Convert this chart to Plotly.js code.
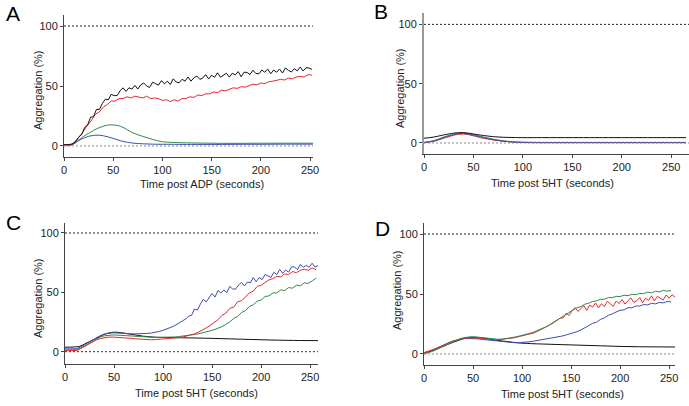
<!DOCTYPE html>
<html>
<head>
<meta charset="utf-8">
<script src="https://cdn.plot.ly/plotly-3.0.1.min.js"></script>
<style>
  html, body { margin: 0; padding: 0; background: #fff; }
  #chart { width: 689px; height: 406px; }
</style>
</head>
<body>
<div id="chart"></div>
<script>
// colours of the four traces
var black = '#111111', red = '#e8282c', green = '#2e8a4a', blue = '#3b4db0';

// ---------- panel A : ADP ----------
var tAk = [0,3,6,9,12,15,18,21,24,27,30,33,36,39,42,45,48,51,54,57,60,63,66,69,72,75,78,81,84,87,90,93,96,99,102,105,108,111,114,117,
           120,123,126,129,132,135,138,141,144,147,150,153,156,159,162,165,168,171,174,177,180,183,186,189,192,195,198,201,204,207,
           210,213,216,219,222,225,228,231,234,237,240,243,246,249,252];
var blackA = [1,1,1,2,4,7.5,9.5,15.5,17.5,24,24.5,30.5,30.5,35.5,39,38.5,43,42,42,46,48.5,45.5,48.5,47.5,50.5,47.5,51,52.5,50,48.8,
              53.1,52,50.7,54.5,51.8,54,51.2,56,53.3,52.7,55.6,54,57.5,54,56.9,58.3,55.5,56.7,59.5,55.8,59,57.2,61,57.3,59,60.7,57.4,60.6,
              59.3,62,57.7,61.5,61.3,59.5,63.2,60.4,60.1,63.3,61.5,64.1,60.2,63.3,61.5,64.1,60.8,65,63.1,61.7,64.4,62.6,65.8,62.5,65.2,65,63.8];
var tA = [0,4,8,12,16,20,24,28, 32,36,40,44,48,52,56,60, 64,68,72,76,80,84,88,92, 96,100,104,108,112,116,120,124,
          128,132,136,140,144,148,152,156, 160,164,168,172,176,180,184,188, 192,196,200,204,208,212,216,220, 224,228,232,236,240,244,248,252];
var redA = [1,1,1.5,4,8,12.5,17.5,21.5, 26.5,28.5,32.5,34.5,37.5,37.5,39.5,39.5, 41,40,41.5,41,40,41.5,39.5,40, 39.5,38,38.5,37,38.5,37.5,39.5,39.5,
            41,40.5,42.5,42,43.5,43.5,45,44.5, 46.5,46,47.5,48.5,48,49.5,49,50.5, 51.5,51,52.5,52,53.5,54,54.5,55.5, 55,56.5,56,57.5,58,57.5,59.5,59];
var tAs = [0,8,15,20,25,30,35,40,45,50,55,60,70,80,90,100,110,120,140,160,180,200,220,240,253];
var greenA = [1,1,5,8,10.5,13,15,16.5,17.5,17.5,17,15.5,11,8,5.5,3.5,3,2.7,2.4,2.2,2.2,2.3,2.3,2.3,2.3];
var blueA = [1,1,4.5,6.5,8,8.8,9,8.5,7.5,6.3,5,3.8,2.4,1.8,1.5,1.4,1.4,1.3,1.3,1.3,1.4,1.4,1.5,1.5,1.5];

// ---------- panel B : 5HT ----------
var tB = [0,10,20,30,35,40,45,50,60,70,80,90,100,120,150,200,265];
var blackB = [4,5,6.8,8.3,8.7,8.7,8.3,7.6,6.3,5.3,4.8,4.6,4.5,4.5,4.5,4.5,4.5];
var redB = [0.5,1.5,4,6.5,7.3,7.5,7,6,4,2.5,1.5,0.8,0.5,0.3,0.3,0.3,0.3];
var greenB = [0.5,2,5,7.5,8.2,8.3,7.8,7,5,3.2,1.8,1,0.7,0.5,0.5,0.5,0.5];
var blueB = [0.3,1.5,4.5,7,7.8,8,7.5,6.5,4.5,2.8,1.5,0.7,0.4,0.3,0.3,0.3,0.3];

// ---------- panel C : 5HT ----------
var tCb = [0,4,8,12,16,20,24,28,32,36,40,44,48,52,56,60,64,68,72,76,80,84,88,92,96,100,104,108,112,116,120,124,
           126,129,132,135,138,141,144,147,150,153,156,159,162,165,168,171,174,177,180,183,186,189,192,195,198,201,204,207,
           210,213,216,219,222,225,228,231,234,237,240,243,246,249,252,255,258];
var blueC = [2.3,2.3,2.3,2.5,4,6,8,10, 12,13.5,14.8,15.5,15.8,15.8,15.5,15.2, 15,15,15,15,15.2,15.4,15.7,16.2, 17,18,19,20.5,22,24,26,28,
             30,30.5,36,35,40,44,42,46,49,46,51.5,49.3,52,49.8,55,52.8,52.7,56.2,58.3,55.3,58.7,58,62.5,58.8,62.5,60.8,65,63.8,
             62.5,66.8,65,69.3,66,68.8,67,71.3,71.5,69,73.5,71,72.8,71,74.5,71.3,72.5];
var tC = [0,4,8,12,16,20,24,28, 32,36,40,44,48,52,56,60, 64,68,72,76,80,84,88,92, 96,100,104,108,112,116,120,124,
          128,132,136,140,144,148,152,156, 160,164,168,172,176,180,184,188, 192,196,200,204,208,212,216,220, 224,228,232,236,240,244,248,252, 256];
var redC = [0.8,0.8,0.8,1,2.5,4.5,6.5,8.5, 10,11,11.8,12.2,12.3,12.2,12,11.8, 11.5,11.2,10.8,10.5,10.2,10,10,10.2, 10.4,10.6,10.8,11,11.4,11.8,12.3,13,
            14,15,16.4,18,20,22,24.5,27, 30.5,32.5,36.5,37.5,42,43,46,49.5, 51,55,56,58.5,60.5,61.5,63.5,63, 65.5,65,67.5,66.5,68.5,69.5,68.5,70.5, 69];
var greenC = [1.4,1.4,1.4,1.6,3,5,7,9, 11,12.3,13.3,13.8,14,14,13.8,13.5, 13.2,12.8,12.5,12.3,12.1,12,12,12, 12,12,12,12.2,12.4,12.7,13,13.5,
              14,14.5,15,15.7,16.5,17.5,18.5,19.5, 21,23,25,28,29.5,33,34.5,38, 39.5,42.5,43.5,46.5,47,49.5,49.5,52, 51.5,54,53.5,56,55.5,58,57.5,59.5, 62];
var tCs = [0,10,15,20,25,30,35,40,45,50,55,60,70,80,90,100,120,150,180,210,240,258];
var blackC = [3.7,4,4.5,6.5,8.5,10.5,12.5,14.5,15.8,16.4,16.2,15.6,14.3,13,12.3,12,11.7,11.2,10.5,9.8,9.4,9.3];

// ---------- panel D : 5HT ----------
var tDr = [0,4,8,12,16,20,24,28,32,36,40,44,48,52,56,60,64,68,72,76,80,84,88,92,96,100,104,108,112,116,120,124,128,132,136,
           139,142,145,148,151,154,157,160,163,166,169,172,175,178,181,184,187,190,193,196,199,202,205,208,211,214,217,220,
           223,226,229,232,235,238,241,244,247,250,253,256];
var redD = [1,2,3,4.5,6,7.5,9,10.3, 11.3,12.3,13,13.5,13.6,13.5,13.2,12.8, 12.4,12.1,12,12,12.2,12.5,13,13.5, 14.2,14.8,15.5,16.5,17.5,19,20.5,22, 24,26,28,
            30,30,34,32,36.2,38.7,35.5,37.7,40.3,36.3,40.7,39.1,42.5,38.4,41.8,39.6,43.9,41.8,39.7,44.1,42,45.3,41.6,44.4,46.7,43,44.3,47,
            42.7,46.5,44.7,48.5,44.2,48,46.7,45,49.2,46.5,49.3,47.5];
var tD = [0,4,8,12,16,20,24,28, 32,36,40,44,48,52,56,60, 64,68,72,76,80,84,88,92, 96,100,104,108,112,116,120,124,
          128,132,136,140,144,148,152,156, 160,164,168,172,176,180,184,188, 192,196,200,204,208,212,216,220, 224,228,232,236,240,244,248,252];
var greenD = [0,0.8,2,3.5,5,6.8,8.3,9.8, 11.2,12.5,13.5,14.2,14.4,14.3,14,13.5, 13,12.5,12.2,12.2,12.4,12.8,13.3,14, 14.7,15.4,16.2,17.2,18.3,19.5,21,22.5,
              24.3,26.2,28.2,30.2,32.5,34.6,36.5,38.5, 39.5,41.5,42.3,43.8,44.2,45.6,45.7,47, 47,48,47.9,49,48.6,49.7,49.4,50.5, 50.3,51.5,51,52.3,51.8,53,52.4,52.8];
var blueD = [1,1.8,3,4.5,6,7.5,9,10.3, 11.3,12.2,12.8,13,13,12.8,12.5,12.1, 11.7,11.3,11,10.5,10.1,9.8,9.5,9.4, 9.4,9.5,9.8,10.2,10.7,11.2,11.7,12.3,
             12.9,13.5,14.1,14.8,15.6,16.5,17.5,18.6, 20,21.8,23,25.5,26.5,28.8,30.1,32.2, 33.4,34.9,36.5,36.7,38.6,38.5,40,40, 41.2,40.9,42.2,41.8,42.9,42.6,43.8,43.4];
var tDs = [0,8,15,20,25,30,35,40,45,50,55,60,70,80,90,100,120,140,160,180,200,220,240,256];
var blackD = [1,2.5,4.8,6.5,8.2,9.8,11.3,12.6,13.5,13.7,13.6,13.2,12,10.8,9.8,9,8.3,7.8,7.3,6.8,6.3,6,5.9,5.8];

function line(x, y, color, ax, smooth) {
  return {
    x: x, y: y, type: 'scatter', mode: 'lines',
    xaxis: ax[0], yaxis: ax[1],
    line: {color: color, width: 1, shape: smooth ? 'spline' : 'linear'},
    hoverinfo: 'skip', showlegend: false
  };
}

var data = [
  line(tAs, greenA, green, ['x', 'y'], true),
  line(tAs, blueA, blue, ['x', 'y'], true),
  line(tA, redA, red, ['x', 'y']),
  line(tAk, blackA, black, ['x', 'y']),

  line(tB, greenB, green, ['x2', 'y2'], true),
  line(tB, redB, red, ['x2', 'y2'], true),
  line(tB, blueB, blue, ['x2', 'y2'], true),
  line(tB, blackB, black, ['x2', 'y2'], true),

  line(tCs, blackC, black, ['x3', 'y3'], true),
  line(tC, greenC, green, ['x3', 'y3']),
  line(tC, redC, red, ['x3', 'y3']),
  line(tCb, blueC, blue, ['x3', 'y3']),

  line(tDs, blackD, black, ['x4', 'y4'], true),
  line(tD, blueD, blue, ['x4', 'y4']),
  line(tDr, redD, red, ['x4', 'y4']),
  line(tD, greenD, green, ['x4', 'y4'])
];

var W = 689, H = 406;
var FONT = 'Liberation Sans, Arial, sans-serif';
var tickFont = {family: FONT, size: 11, color: '#222'};
var titleFont = {family: FONT, size: 11, color: '#222'};

function xax(left, right, max, anchor) {
  return {
    domain: [left / W, right / W], range: [0, max], anchor: anchor,
    tickvals: [0, 50, 100, 150, 200, 250], ticks: 'outside', ticklen: 3, tickcolor: '#444',
    showline: true, linecolor: '#444', linewidth: 1, showgrid: false, zeroline: false,
    tickfont: tickFont
  };
}
function yax(top, bottom, lo, hi, anchor, lc, lw) {
  return {
    domain: [1 - bottom / H, 1 - top / H], range: [lo, hi], anchor: anchor,
    tickvals: [0, 50, 100], ticks: 'outside', ticklen: 3, tickcolor: '#444',
    showline: true, linecolor: lc || '#444', linewidth: lw || 1, showgrid: false, zeroline: false,
    tickfont: tickFont
  };
}

function refs(xr, yr, xmax, zeroColor) {
  return [
    {type: 'line', xref: xr, yref: yr, x0: 0, x1: xmax, y0: 100, y1: 100,
     line: {color: '#222', width: 1, dash: '2px,2px'}},
    {type: 'line', xref: xr, yref: yr, x0: 0, x1: xmax, y0: 0, y1: 0,
     line: {color: zeroColor, width: 1, dash: '2px,2px'}}
  ];
}

function letter(txt, x, y) {
  return {text: txt, x: x / W, y: 1 - y / H, xref: 'paper', yref: 'paper', showarrow: false,
          xanchor: 'center', yanchor: 'middle',
          font: {family: FONT, size: 21, color: '#000'}};
}
// axis titles are placed by hand: in the figure they sit off the axis centre
function label(txt, x, y, angle) {
  return {text: txt, x: x / W, y: 1 - y / H, xref: 'paper', yref: 'paper', showarrow: false,
          textangle: angle || 0, xanchor: 'center', yanchor: 'middle', font: titleFont};
}

var layout = {
  width: W, height: H,
  margin: {l: 0, r: 0, t: 0, b: 0},
  paper_bgcolor: '#fff', plot_bgcolor: 'rgba(0,0,0,0)',
  showlegend: false,
  xaxis: xax(64, 313, 253, 'y'),
  yaxis: yax(15, 157, -9.2, 109.2, 'x'),
  xaxis2: xax(424, 689, 268, 'y2'),
  yaxis2: yax(13, 154, -9.3, 109.6, 'x2', '#9a9a9a', 2),
  xaxis3: xax(65, 318, 258, 'y3'),
  yaxis3: yax(223, 364, -10.4, 108.4, 'x3'),
  xaxis4: xax(424, 675, 256, 'y4'),
  yaxis4: yax(223, 365, -9.2, 109.2, 'x4'),
  shapes: [].concat(
    refs('x', 'y', 253, '#888'),
    refs('x2', 'y2', 268, '#888'),
    refs('x3', 'y3', 258, '#333'),
    refs('x4', 'y4', 256, '#888')
  ),
  annotations: [
    letter('A', 13, 13),
    letter('B', 381, 12),
    letter('C', 13, 222),
    letter('D', 382, 228),
    label('Aggregation (%)', 38, 90, -90),
    label('Aggregation (%)', 400, 88, -90),
    label('Aggregation (%)', 38, 298, -90),
    label('Aggregation (%)', 397, 290, -90),
    label('Time post ADP (seconds)', 202, 184),
    label('Time post 5HT (seconds)', 552, 183),
    label('Time post 5HT (seconds)', 196, 393),
    label('Time post 5HT (seconds)', 562, 394)
  ]
};

Plotly.newPlot('chart', data, layout, {staticPlot: true, displayModeBar: false});
</script>
</body>
</html>
